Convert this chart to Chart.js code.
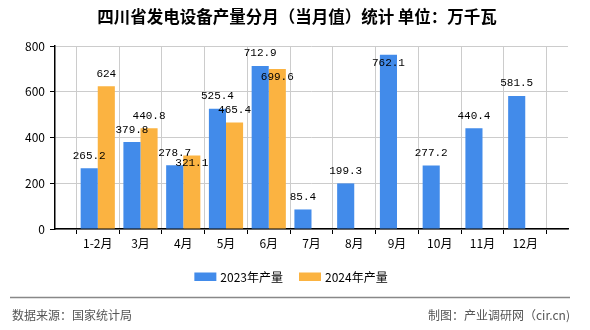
<!DOCTYPE html>
<html>
<head>
<meta charset="utf-8">
<script src="https://cdn.jsdelivr.net/npm/chart.js@4.4.1/dist/chart.umd.min.js"></script>
<style>
  body { margin: 0; background: #fff; }
  #wrap { width: 590px; height: 330px; }
</style>
</head>
<body>
<div id="wrap"><canvas id="chart" width="590" height="330"></canvas></div>
<script>
const titleText = "四川省发电设备产量分月（当月值）统计 单位：万千瓦";
const months = ["1-2月", "3月", "4月", "5月", "6月", "7月", "8月", "9月", "10月", "11月", "12月"];
const output2023 = [265.2, 379.8, 278.7, 525.4, 712.9, 85.4, 199.3, 762.1, 277.2, 440.4, 581.5];
const output2024 = [624, 440.8, 321.1, 465.4, 699.6, null, null, null, null, null, null];
const seriesNames = ["2023年产量", "2024年产量"];
const yTicks = [0, 200, 400, 600, 800];
const sourceText = "数据来源：国家统计局";
const creditText = "制图：产业调研网（cir.cn)";

const colors = ["#428bea", "#fbb341"];
const cjk = '"Noto Sans CJK SC", "Liberation Sans", sans-serif';

// empty slot at each end, like the original axis
const labels = [""].concat(months, [""]);
const pad = (arr) => [null].concat(arr, [null]);

// labels above bars, pushed inside the bar when there is no room
const valueLabels = {
  id: "valueLabels",
  afterDatasetsDraw(chart) {
    const ctx = chart.ctx;
    const area = chart.chartArea;
    ctx.save();
    ctx.font = '11px "Liberation Mono", "DejaVu Sans Mono", monospace';
    ctx.fillStyle = "#000";
    ctx.textAlign = "center";
    ctx.textBaseline = "middle";
    const placed = [];
    chart.data.datasets.forEach((ds, i) => {
      chart.getDatasetMeta(i).data.forEach((el, j) => {
        const v = ds.data[j];
        if (v === null || v === undefined) return;
        const txt = String(v);
        const w = ctx.measureText(txt).width;
        let y = el.y - 12.5;
        const hit = (yy) => placed.some((r) =>
          Math.abs(r.x - el.x) < (r.w + w) / 2 && Math.abs(r.y - yy) < 11);
        if (y - 6 < area.top || hit(y)) y = el.y + 8;
        placed.push({ x: el.x, y: y, w: w });
        ctx.fillText(txt, el.x, y);
      });
    });
    ctx.restore();
  },
};

// title, legend and footer
const frame = {
  id: "frame",
  afterDraw(chart) {
    const ctx = chart.ctx;
    ctx.save();
    ctx.fillStyle = "#000";
    ctx.textBaseline = "middle";
    ctx.textAlign = "center";
    ctx.font = "bold 16.5px " + cjk;
    ctx.fillText(titleText, 297, 17);

    // legend
    ctx.font = "12px " + cjk;
    ctx.textAlign = "left";
    const boxW = 22, gap = 4, between = 16;
    const widths = seriesNames.map((n) => boxW + gap + ctx.measureText(n).width);
    const total = widths.reduce((a, b) => a + b, 0) + between * (widths.length - 1);
    let x = 291 - total / 2;
    seriesNames.forEach((n, i) => {
      ctx.fillStyle = colors[i];
      ctx.fillRect(x, 272.5, boxW, 8.5);
      ctx.fillStyle = "#000";
      ctx.fillText(n, x + boxW + gap, 277);
      x += widths[i] + between;
    });

    // footer
    ctx.strokeStyle = "#888";
    ctx.lineWidth = 1.5;
    ctx.beginPath();
    ctx.moveTo(10, 297.5);
    ctx.lineTo(570, 297.5);
    ctx.stroke();
    ctx.fillStyle = "#555";
    ctx.font = "12px " + cjk;
    ctx.fillText(sourceText, 12, 315);
    ctx.textAlign = "right";
    ctx.fillText(creditText, 570, 315);
    ctx.restore();
  },
};

new Chart(document.getElementById("chart"), {
  type: "bar",
  data: {
    labels: labels,
    datasets: [
      { label: seriesNames[0], data: pad(output2023), backgroundColor: colors[0] },
      { label: seriesNames[1], data: pad(output2024), backgroundColor: colors[1] },
    ],
  },
  options: {
    responsive: false,
    animation: false,
    devicePixelRatio: 1,
    layout: { padding: { top: 46, right: 22, bottom: 76, left: 0 } },
    datasets: { bar: { categoryPercentage: 0.8, barPercentage: 1.0 } },
    plugins: {
      legend: { display: false },
      title: { display: false },
      tooltip: { enabled: false },
    },
    scales: {
      x: {
        offset: false,
        grid: { color: "#ccc", tickColor: "#000", tickLength: 5 },
        border: { color: "#000", width: 1.5 },
        ticks: {
          autoSkip: false,
          maxRotation: 0,
          padding: 2,
          color: "#000",
          font: { size: 12, family: cjk },
        },
        afterFit: (s) => { s.height = 25; },
      },
      y: {
        min: yTicks[0],
        max: yTicks[yTicks.length - 1],
        afterBuildTicks: (s) => { s.ticks = yTicks.map((v) => ({ value: v })); },
        grid: { color: "#ccc", tickColor: "#000", tickLength: 5 },
        border: { color: "#000", width: 1.5 },
        ticks: {
          padding: 5,
          color: "#000",
          font: { size: 12, family: cjk },
        },
        afterFit: (s) => { s.width = 55; },
      },
    },
  },
  plugins: [valueLabels, frame],
});
</script>
</body>
</html>
